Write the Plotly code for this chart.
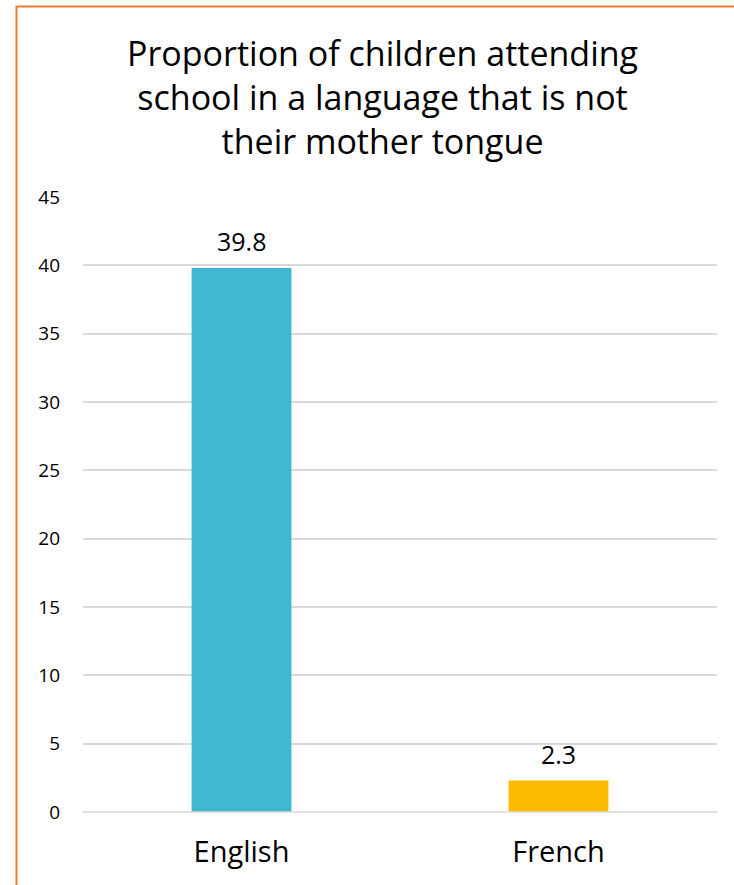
import plotly.graph_objects as go

categories = ["English", "French"]
values = [39.8, 2.3]
colors = ["#41B8D2", "#FABA00"]
labels = ["39.8", "2.3"]
title_text = "Proportion of children attending<br>school in a language that is not<br>their mother tongue"

FONT = "Open Sans, Lato, sans-serif"

fig = go.Figure(go.Bar(
    x=categories, y=values, marker=dict(color=colors, line=dict(width=0)),
    width=0.315, hoverinfo="skip",
))

for c, v, t in zip(categories, values, labels):
    fig.add_annotation(x=c, y=v, text=t, showarrow=False, yanchor="bottom", yshift=8,
                       font=dict(size=25, color="#000000", family=FONT))

fig.add_annotation(text=title_text, xref="paper", yref="paper", x=(382 - 83) / 634,
                   y=(812 - 97) / 615, xanchor="center", yanchor="middle", showarrow=False,
                   font=dict(size=34, color="#000000", family=FONT))

fig.update_layout(
    width=734, height=885,
    margin=dict(l=83, r=17, t=197, b=73),
    paper_bgcolor="white", plot_bgcolor="white",
    showlegend=False,
    xaxis=dict(showgrid=False, showline=False, ticks="",
               tickfont=dict(size=29, color="#000000", family=FONT),
               ticklabelstandoff=20),
    yaxis=dict(range=[0, 45], dtick=5, showgrid=True, gridcolor="#D9D9D9", gridwidth=1.5,
               zeroline=False, showline=False, ticks="",
               tickfont=dict(size=19, color="#000000", family=FONT),
               ticklabelstandoff=22),
    shapes=[dict(type="line", xref="paper", yref="paper", x0=0, x1=1, y0=0, y1=0,
                 line=dict(color="#D9D9D9", width=1.5)),
            dict(type="rect", xref="paper", yref="paper",
                 x0=(16.5 - 83) / 634, x1=1.2, y0=-0.2, y1=(812 - 6.5) / 615,
                 line=dict(color="#ED7D31", width=2), fillcolor="rgba(0,0,0,0)", layer="above")],
)

fig.write_html("out.html", config={"displayModeBar": False},
               post_script="document.body.style.margin='0';document.body.style.overflow='hidden';")
